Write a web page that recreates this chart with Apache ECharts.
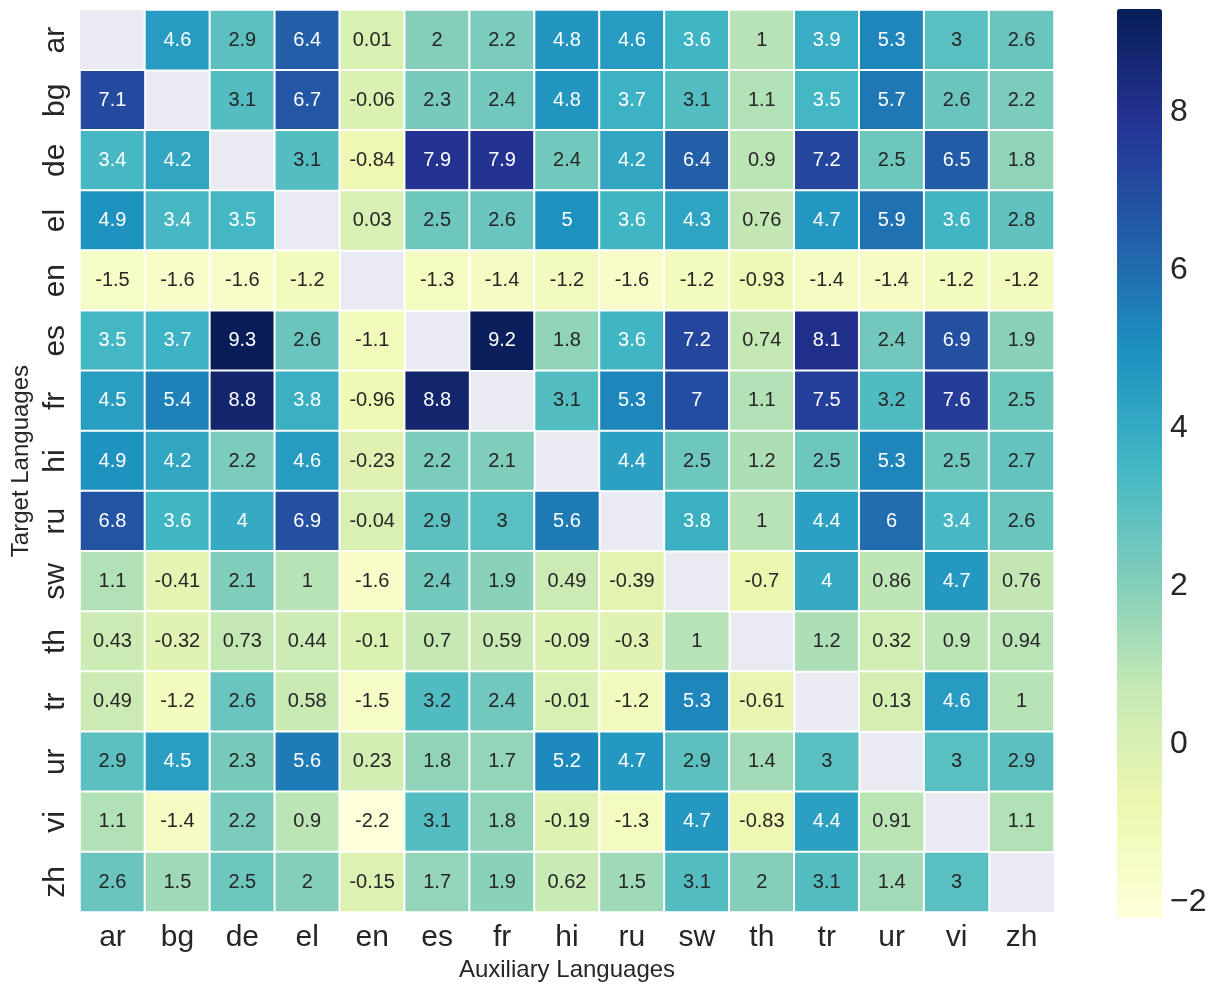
<!DOCTYPE html>
<html>
<head>
<meta charset="utf-8">
<script src="https://cdn.jsdelivr.net/npm/echarts@6/dist/echarts.min.js"></script>
<style>
html,body{margin:0;padding:0;background:#fff;}
#chart{width:1213px;height:987px;}
</style>
</head>
<body>
<div id="chart"></div>
<script>
// Categories
const auxLanguages = ['ar','bg','de','el','en','es','fr','hi','ru','sw','th','tr','ur','vi','zh'];
const targetLanguages = ['ar','bg','de','el','en','es','fr','hi','ru','sw','th','tr','ur','vi','zh'];

// One row per target language (columns = auxiliary languages), null = diagonal
const rowAr = [null, 4.6, 2.9, 6.4, 0.01, 2, 2.2, 4.8, 4.6, 3.6, 1, 3.9, 5.3, 3, 2.6];
const rowBg = [7.1, null, 3.1, 6.7, -0.06, 2.3, 2.4, 4.8, 3.7, 3.1, 1.1, 3.5, 5.7, 2.6, 2.2];
const rowDe = [3.4, 4.2, null, 3.1, -0.84, 7.9, 7.9, 2.4, 4.2, 6.4, 0.9, 7.2, 2.5, 6.5, 1.8];
const rowEl = [4.9, 3.4, 3.5, null, 0.03, 2.5, 2.6, 5, 3.6, 4.3, 0.76, 4.7, 5.9, 3.6, 2.8];
const rowEn = [-1.5, -1.6, -1.6, -1.2, null, -1.3, -1.4, -1.2, -1.6, -1.2, -0.93, -1.4, -1.4, -1.2, -1.2];
const rowEs = [3.5, 3.7, 9.3, 2.6, -1.1, null, 9.2, 1.8, 3.6, 7.2, 0.74, 8.1, 2.4, 6.9, 1.9];
const rowFr = [4.5, 5.4, 8.8, 3.8, -0.96, 8.8, null, 3.1, 5.3, 7, 1.1, 7.5, 3.2, 7.6, 2.5];
const rowHi = [4.9, 4.2, 2.2, 4.6, -0.23, 2.2, 2.1, null, 4.4, 2.5, 1.2, 2.5, 5.3, 2.5, 2.7];
const rowRu = [6.8, 3.6, 4, 6.9, -0.04, 2.9, 3, 5.6, null, 3.8, 1, 4.4, 6, 3.4, 2.6];
const rowSw = [1.1, -0.41, 2.1, 1, -1.6, 2.4, 1.9, 0.49, -0.39, null, -0.7, 4, 0.86, 4.7, 0.76];
const rowTh = [0.43, -0.32, 0.73, 0.44, -0.1, 0.7, 0.59, -0.09, -0.3, 1, null, 1.2, 0.32, 0.9, 0.94];
const rowTr = [0.49, -1.2, 2.6, 0.58, -1.5, 3.2, 2.4, -0.01, -1.2, 5.3, -0.61, null, 0.13, 4.6, 1];
const rowUr = [2.9, 4.5, 2.3, 5.6, 0.23, 1.8, 1.7, 5.2, 4.7, 2.9, 1.4, 3, null, 3, 2.9];
const rowVi = [1.1, -1.4, 2.2, 0.9, -2.2, 3.1, 1.8, -0.19, -1.3, 4.7, -0.83, 4.4, 0.91, null, 1.1];
const rowZh = [2.6, 1.5, 2.5, 2, -0.15, 1.7, 1.9, 0.62, 1.5, 3.1, 2, 3.1, 1.4, 3, null];

const colorbarTicks = [-2, 0, 2, 4, 6, 8];

const rows = [rowAr,rowBg,rowDe,rowEl,rowEn,rowEs,rowFr,rowHi,rowRu,rowSw,rowTh,rowTr,rowUr,rowVi,rowZh];

// YlGnBu colormap
const YlGnBu = ['#ffffd9','#edf8b1','#c7e9b4','#7fcdbb','#41b6c4','#1d91c0','#225ea8','#253494','#081d58'];

let vmin = Infinity, vmax = -Infinity;
rows.forEach(r => r.forEach(v => { if (v !== null) { vmin = Math.min(vmin, v); vmax = Math.max(vmax, v); } }));

function hexToRgb(h){ return [parseInt(h.substr(1,2),16), parseInt(h.substr(3,2),16), parseInt(h.substr(5,2),16)]; }
function cmap(v){
  let t = (v - vmin) / (vmax - vmin);
  t = Math.max(0, Math.min(1, t));
  const n = YlGnBu.length - 1;
  const i = Math.min(n - 1, Math.floor(t * n));
  const f = t * n - i;
  const a = hexToRgb(YlGnBu[i]), b = hexToRgb(YlGnBu[i+1]);
  return a.map((c, k) => c + (b[k] - c) * f);
}
function luminance(rgb){
  const lin = rgb.map(c => { c = c / 255; return c <= 0.03928 ? c / 12.92 : Math.pow((c + 0.055) / 1.055, 2.4); });
  return 0.2126 * lin[0] + 0.7152 * lin[1] + 0.0722 * lin[2];
}

const data = [];
rows.forEach((r, yi) => r.forEach((v, xi) => {
  if (v === null) return;
  const txt = luminance(cmap(v)) > 0.408 ? '#262626' : '#ffffff';
  data.push({ value: [xi, yi, v], label: { color: txt } });
}));

const FONT = '"Liberation Sans", Arial, Helvetica, sans-serif';
const chart = echarts.init(document.getElementById('chart'), null, { renderer: 'canvas' });
chart.setOption({
  backgroundColor: '#ffffff',
  animation: false,
  textStyle: { fontFamily: FONT },
  grid: [
    { left: 80, top: 10, width: 974, height: 907, show: true, backgroundColor: '#EAEAF2', borderWidth: 0 },
    { left: 1117, top: 9, width: 45, height: 909, show: false }
  ],
  xAxis: [
    {
      type: 'category', data: auxLanguages, gridIndex: 0,
      axisLine: { show: false }, axisTick: { show: false }, splitLine: { show: false },
      axisLabel: { fontSize: 30, color: '#262626', margin: 11, interval: 0, fontFamily: FONT },
      name: 'Auxiliary Languages', nameLocation: 'middle', nameGap: 42,
      nameTextStyle: { fontSize: 24, color: '#262626', fontFamily: FONT }
    },
    { type: 'value', gridIndex: 1, show: false }
  ],
  yAxis: [
    {
      type: 'category', data: targetLanguages, gridIndex: 0, inverse: true,
      axisLine: { show: false }, axisTick: { show: false }, splitLine: { show: false },
      axisLabel: { fontSize: 30, color: '#262626', margin: 9, rotate: 90, interval: 0, fontFamily: FONT },
      name: 'Target Languages', nameLocation: 'middle', nameGap: 44, nameRotate: 90,
      nameTextStyle: { fontSize: 24, color: '#262626', fontFamily: FONT }
    },
    {
      type: 'value', gridIndex: 1, min: vmin, max: vmax, position: 'right',
      axisLine: { show: false }, axisTick: { show: false }, splitLine: { show: false },
      axisLabel: {
        customValues: colorbarTicks, fontSize: 32, color: '#262626', margin: 8, fontFamily: FONT,
        formatter: v => String(v).replace('-', '\u2212')
      }
    }
  ],
  visualMap: {
    type: 'continuous', min: vmin, max: vmax, seriesIndex: 0,
    calculable: false, hoverLink: false, orient: 'vertical',
    left: 1117, top: 9, itemWidth: 45, itemHeight: 909, padding: 0,
    text: null, showLabel: false,
    inRange: { color: YlGnBu }
  },
  series: [{
    type: 'heatmap', xAxisIndex: 0, yAxisIndex: 0,
    data: data,
    itemStyle: { borderColor: '#ffffff', borderWidth: 2 },
    label: { show: true, fontSize: 20, fontFamily: FONT, formatter: p => String(p.value[2]) },
    emphasis: { disabled: true }
  }]
});
</script>
</body>
</html>
